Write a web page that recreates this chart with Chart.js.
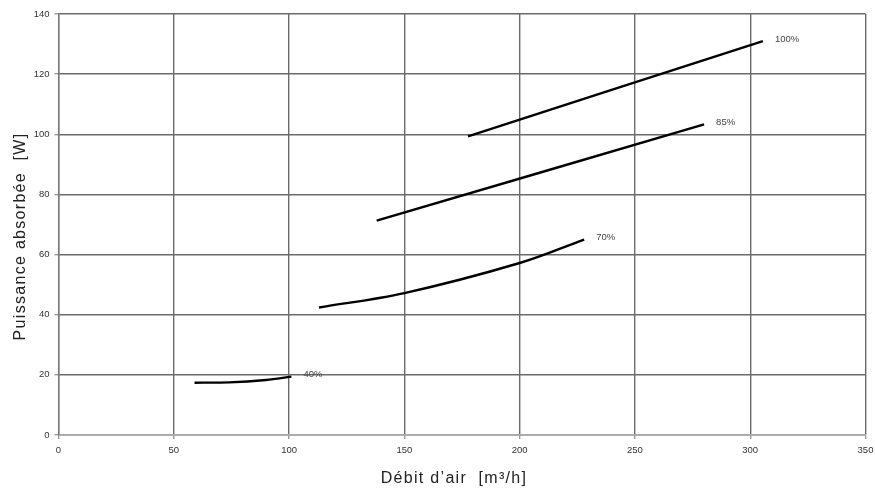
<!DOCTYPE html>
<html>
<head>
<meta charset="utf-8">
<script src="https://cdn.jsdelivr.net/npm/chart.js@4.4.1/dist/chart.umd.min.js"></script>
<style>
  html, body { margin: 0; padding: 0; background: #fff; }
  #wrap { width: 875px; height: 498px; }
</style>
</head>
<body>
<div id="wrap"><canvas id="chart_Puissance"></canvas></div>
<script>
// courbes : débit [m3/h] et puissance [W]
const debit_40 = [59, 74, 90, 101];
const puissance_40 = [17.4, 17.5, 18.3, 19.4];

const debit_70 = [113, 150, 200, 228];
const puissance_70 = [42.4, 47.2, 57.2, 65];

const debit_85 = [138, 280];
const puissance_85 = [71.3, 103.3];

const debit_100 = [177.6, 305.5];
const puissance_100 = [99.3, 131];

const curveLabels = ['40%', '70%', '85%', '100%'];
const xTicks = [0, 50, 100, 150, 200, 250, 300, 350];
const yTicks = [0, 20, 40, 60, 80, 100, 120, 140];

const xTitle = 'Débit d\u2019air  [m³/h]';
const yTitle = 'Puissance absorbée  [W]';

function toPoints(xs, ys) {
    return xs.map((x, i) => ({ x: x, y: ys[i] }));
}

const series = [
    toPoints(debit_40, puissance_40),
    toPoints(debit_70, puissance_70),
    toPoints(debit_85, puissance_85),
    toPoints(debit_100, puissance_100)
];

// étiquettes "xx%" à la fin de chaque courbe + titres des axes
const annotations = {
    id: 'annotations',
    afterDatasetsDraw(chart) {
        const { ctx, chartArea, scales } = chart;
        ctx.save();
        ctx.fillStyle = '#444';
        ctx.font = '9.5px "Liberation Sans", Arial, sans-serif';
        ctx.textBaseline = 'middle';
        ctx.textAlign = 'left';
        series.forEach((pts, i) => {
            const last = pts[pts.length - 1];
            const px = scales.x.getPixelForValue(last.x);
            const py = scales.y.getPixelForValue(last.y);
            ctx.fillText(curveLabels[i], px + 12, py - 2);
        });

        ctx.fillStyle = '#222';
        ctx.font = '16px "Liberation Sans", Arial, sans-serif';
        ctx.letterSpacing = '1.3px';
        ctx.textAlign = 'center';
        ctx.fillText(xTitle, (chartArea.left + chartArea.right) / 2 - 8, chartArea.bottom + 44);

        ctx.translate(21, (chartArea.top + chartArea.bottom) / 2 + 12);
        ctx.rotate(-Math.PI / 2);
        ctx.fillText(yTitle, 0, 0);
        ctx.restore();
    }
};

const gridStyle = {
    color: '#6a6a6a',
    lineWidth: 1.4,
    tickLength: 4,
    tickColor: '#999',
    drawTicks: true
};

const puissanceChart = {
    type: 'line',
    data: {
        datasets: series.map((pts, i) => ({
            label: curveLabels[i],
            data: pts,
            borderColor: '#000',
            borderWidth: 2.4,
            pointRadius: 0,
            fill: false,
            tension: 0.35
        }))
    },
    options: {
        responsive: false,
        animation: false,
        layout: {
            padding: { top: 14, right: 9.5, left: 0, bottom: 0 }
        },
        plugins: {
            legend: { display: false },
            tooltip: { enabled: false }
        },
        scales: {
            x: {
                type: 'linear',
                min: 0,
                max: 350,
                afterBuildTicks: (scale) => { scale.ticks = xTicks.map(v => ({ value: v })); },
                afterFit: (scale) => {
                    scale.height = 63;
                    scale.paddingRight = 0;
                    scale.paddingLeft = 0;
                },
                grid: gridStyle,
                border: { color: '#aaa', width: 1.4 },
                ticks: {
                    padding: 6,
                    color: '#333',
                    font: { size: 9.5, family: '"Liberation Sans", Arial, sans-serif' }
                }
            },
            y: {
                min: 0,
                max: 140,
                afterBuildTicks: (scale) => { scale.ticks = yTicks.map(v => ({ value: v })); },
                afterFit: (scale) => {
                    scale.width = 58.5;
                    scale.paddingTop = 0;
                    scale.paddingBottom = 0;
                },
                grid: gridStyle,
                border: { color: '#777', width: 1.4 },
                ticks: {
                    padding: 5,
                    color: '#333',
                    font: { size: 9.5, family: '"Liberation Sans", Arial, sans-serif' }
                }
            }
        }
    },
    plugins: [annotations]
};

const canvas = document.getElementById('chart_Puissance');
canvas.width = 875;
canvas.height = 498;
const lineChart = new Chart(canvas, puissanceChart);
</script>
</body>
</html>
